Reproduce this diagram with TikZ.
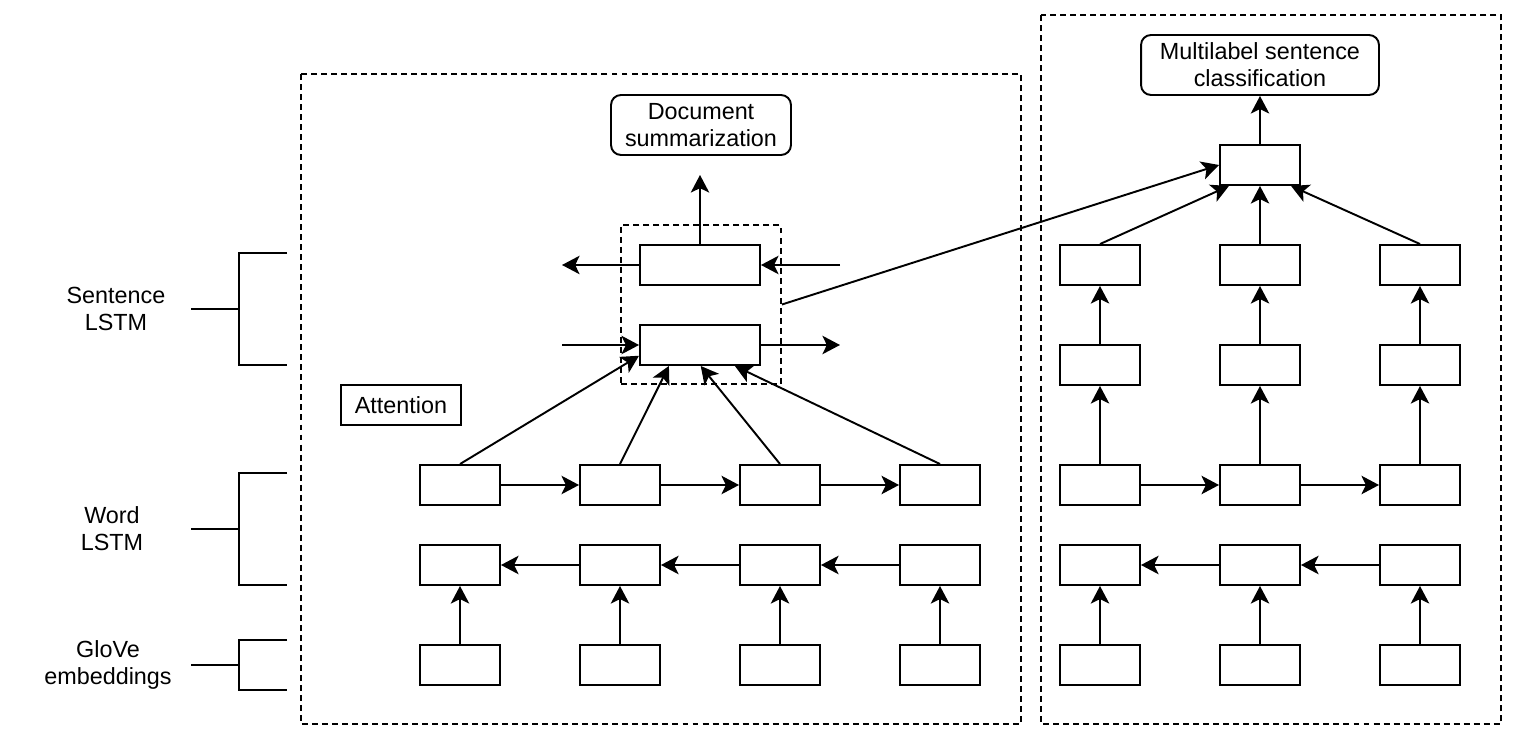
\documentclass[tikz,border=0pt]{standalone}
\usepackage{fontspec}
\setmainfont{Liberation Sans}
\usetikzlibrary{arrows.meta}

\tikzset{
  cell/.style={draw, line width=1.1pt, minimum width=1.6cm, minimum height=0.8cm, inner sep=0pt},
  widecell/.style={cell, minimum width=2.4cm},
  task/.style={draw, line width=1.1pt, rounded corners=0.2cm, align=center, minimum height=1.2cm, inner sep=2pt},
  lbl/.style={align=center, inner sep=0pt},
  arr/.style={line width=1.1pt, -{Stealth[length=10pt, width=10.5pt, inset=2.5pt]}},
  frame/.style={line width=1.1pt, dash pattern=on 3.4pt off 2.3pt}
}

\begin{document}
\begin{tikzpicture}[x=0.02cm, y=-0.02cm, line width=1.1pt, font=\fontsize{13.3}{15.5}\selectfont]
        \useasboundingbox (0, 0) rectangle (1522, 746);

        % Frames
        \draw [frame] (301, 74) rectangle (1021, 724);
        \draw [frame] (1041, 15) rectangle (1501, 724);

        % Layer labels
        \node [lbl] (sentlabel) at (116, 309) {Sentence\\LSTM};
        \node [lbl] (wordlabel) at (112, 529) {Word\\LSTM};
        \node [lbl] (glovelabel) at (108, 665) {GloVe\\embeddings};
        \draw (287, 253) -- (239, 253) -- (239, 365) -- (287, 365);
        \draw (191, 309) -- (239, 309);
        \draw (287, 473) -- (239, 473) -- (239, 585) -- (287, 585);
        \draw (191, 529) -- (239, 529);
        \draw (287, 640) -- (239, 640) -- (239, 690) -- (287, 690);
        \draw (191, 665) -- (239, 665);

        % Summarization model
        \node [task, minimum width=3.6cm] (docsum) at (701, 125) {Document\\summarization};
        \node [cell, minimum width=2.4cm] (attn) at (401, 405) {Attention};
        \node [frame, draw, minimum width=3.2cm, minimum height=3.18cm] (sentframe) at (701, 304.5) {};
        \node [widecell] (stop) at (700, 265) {};
        \node [widecell] (sbot) at (700, 345) {};

        \node [cell] (wf1) at (460, 485) {};
        \node [cell] (wf2) at (620, 485) {};
        \node [cell] (wf3) at (780, 485) {};
        \node [cell] (wf4) at (940, 485) {};
        \node [cell] (wb1) at (460, 565) {};
        \node [cell] (wb2) at (620, 565) {};
        \node [cell] (wb3) at (780, 565) {};
        \node [cell] (wb4) at (940, 565) {};
        \node [cell] (g1) at (460, 665) {};
        \node [cell] (g2) at (620, 665) {};
        \node [cell] (g3) at (780, 665) {};
        \node [cell] (g4) at (940, 665) {};

        \coordinate (outleft) at (562, 265);
        \coordinate (inright) at (840, 265);
        \coordinate (inleft) at (562, 345);
        \coordinate (outright) at (840, 345);
        \coordinate (sumtip) at (700, 175);

        \draw [arr] (stop) -- (outleft);
        \draw [arr] (inright) -- (stop);
        \draw [arr] (inleft) -- (sbot);
        \draw [arr] (sbot) -- (outright);
        \draw [arr] (stop.north) -- (sumtip);

        \draw [arr] (wf1.north) -- (sbot.190);
        \draw [arr] (wf2.north) -- (sbot.214);
        \draw [arr] (wf3.north) -- (sbot.-88);
        \draw [arr] (wf4.north) -- (sbot.-31);

        \draw [arr] (wf1) -- (wf2);
        \draw [arr] (wf2) -- (wf3);
        \draw [arr] (wf3) -- (wf4);
        \draw [arr] (wb4) -- (wb3);
        \draw [arr] (wb3) -- (wb2);
        \draw [arr] (wb2) -- (wb1);
        \draw [arr] (g1) -- (wb1);
        \draw [arr] (g2) -- (wb2);
        \draw [arr] (g3) -- (wb3);
        \draw [arr] (g4) -- (wb4);

        % Classification model
        \node [task, minimum width=4.76cm] (multi) at (1260, 65) {Multilabel sentence\\classification};
        \node [cell] (cls) at (1260, 165) {};

        \node [cell] (s1) at (1100, 265) {};
        \node [cell] (s2) at (1260, 265) {};
        \node [cell] (s3) at (1420, 265) {};
        \node [cell] (h1) at (1100, 365) {};
        \node [cell] (h2) at (1260, 365) {};
        \node [cell] (h3) at (1420, 365) {};
        \node [cell] (rf1) at (1100, 485) {};
        \node [cell] (rf2) at (1260, 485) {};
        \node [cell] (rf3) at (1420, 485) {};
        \node [cell] (rb1) at (1100, 565) {};
        \node [cell] (rb2) at (1260, 565) {};
        \node [cell] (rb3) at (1420, 565) {};
        \node [cell] (e1) at (1100, 665) {};
        \node [cell] (e2) at (1260, 665) {};
        \node [cell] (e3) at (1420, 665) {};

        \draw [arr] (cls) -- (multi);
        \draw [arr] (s1.north) -- (cls.214);
        \draw [arr] (s2) -- (cls);
        \draw [arr] (s3.north) -- (cls.-34);
        \draw [arr] (h1) -- (s1);
        \draw [arr] (h2) -- (s2);
        \draw [arr] (h3) -- (s3);
        \draw [arr] (rf1) -- (h1);
        \draw [arr] (rf2) -- (h2);
        \draw [arr] (rf3) -- (h3);
        \draw [arr] (rf1) -- (rf2);
        \draw [arr] (rf2) -- (rf3);
        \draw [arr] (rb3) -- (rb2);
        \draw [arr] (rb2) -- (rb1);
        \draw [arr] (e1) -- (rb1);
        \draw [arr] (e2) -- (rb2);
        \draw [arr] (e3) -- (rb3);

        % Sentence encoding passed across
        \draw [arr] (sentframe.east) -- (cls.west);
      \end{tikzpicture}
\end{document}
